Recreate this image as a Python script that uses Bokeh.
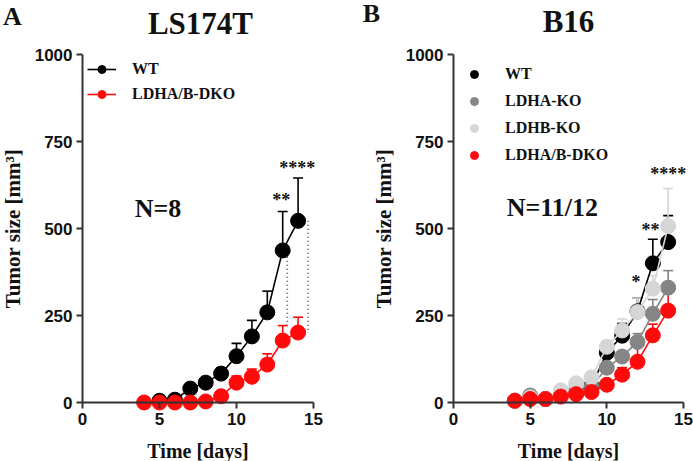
from bokeh.plotting import figure
from bokeh.models import (ColumnDataSource, Whisker, TeeHead, Label, Legend, LegendItem,
                          Range1d, FixedTicker)
from bokeh.layouts import row
from bokeh.embed import file_html
from bokeh.resources import INLINE

# ---------------- data ----------------
# Panel A: LS174T
a_days_wt = [5, 6, 7, 8, 9, 10, 11, 12, 13, 14]
a_wt = [5, 8, 40, 57, 83, 133, 190, 259, 437, 522]
a_wt_top = [7, 11, 46, 64, 100, 170, 236, 320, 549, 645]
a_days_dko = [4, 5, 6, 7, 8, 9, 10, 11, 12, 13, 14]
a_dko = [0, 0, 0, 0, 3, 18, 57, 74, 109, 178, 201]
a_dko_top = [1, 1, 1, 1, 5, 22, 76, 96, 140, 221, 245]
a_stars = ["**", "****"]
a_stars_x = [12.9, 13.95]
a_stars_y = [583, 675]
a_bracket_x = [13.3, 14.65]
a_bracket_top = [430, 522]
a_bracket_bot = [222, 200]

# Panel B: B16
b_days = [4, 5, 6, 7, 8, 9, 10, 11, 12, 13, 14]
b_wt = [5, 12, 10, 25, 30, 48, 143, 192, 262, 400, 461]
b_wt_top = [6, 14, 12, 28, 34, 55, 173, 227, 300, 469, 537]
b_ldha = [5, 20, 10, 20, 30, 45, 100, 132, 174, 255, 330]
b_ldha_top = [6, 24, 12, 23, 34, 52, 112, 144, 198, 296, 379]
b_ldhb = [5, 15, 10, 35, 55, 72, 160, 207, 260, 327, 507]
b_ldhb_top = [6, 18, 12, 40, 62, 82, 178, 240, 300, 365, 615]
b_dko = [5, 10, 10, 17, 24, 30, 51, 80, 117, 193, 264]
b_dko_top = [6, 12, 12, 20, 28, 35, 60, 100, 163, 225, 343]
b_stars = ["*", "**", "****"]
b_stars_x = [11.9, 12.85, 14.0]
b_stars_y = [345, 497, 656]

x_ticks = [0, 5, 10, 15]
y_ticks = [0, 250, 500, 750, 1000]

SERIF = "Liberation Serif"
SANS = "Liberation Sans"

BLACK = "#000000"
RED = "#ff0a0a"
GRAY = "#858585"
LGRAY = "#d6d6d6"
TXT = "#111111"

# ---------------- layout geometry (pixels) ----------------
H = 461
PY0, PY1000 = 402, 54          # pixel rows of y=0 and y=1000


def make_fig(width, px0, px15):
    sx = (px15 - px0) / 15.0
    sy = (PY0 - PY1000) / 1000.0
    xr = Range1d(-px0 / sx, (width - px0) / sx)
    yr = Range1d(-(H - PY0) / sy, PY0 / sy)
    p = figure(width=width, height=H, output_backend="svg", toolbar_location=None,
               x_range=xr, y_range=yr,
               min_border_left=0, min_border_right=0, min_border_top=0, min_border_bottom=0)
    p.title.visible = False
    p.outline_line_color = None
    p.xgrid.visible = False
    p.ygrid.visible = False
    p.xaxis.fixed_location = 0
    p.yaxis.fixed_location = 0
    p.xaxis.bounds = (0, 15)
    p.yaxis.bounds = (0, 1000)
    p.xaxis.ticker = FixedTicker(ticks=x_ticks)
    p.yaxis.ticker = FixedTicker(ticks=y_ticks)
    for ax in (p.xaxis, p.yaxis):
        ax.axis_line_width = 2
        ax.axis_line_color = "#333333"
        ax.major_tick_line_color = "#333333"
        ax.major_tick_line_width = 2
        ax.major_tick_out = 6
        ax.major_tick_in = 0
        ax.minor_tick_line_color = None
        ax.major_label_text_font = SANS
        ax.major_label_text_font_style = "bold"
        ax.major_label_text_font_size = "17px"
        ax.major_label_text_color = TXT
        ax.major_label_standoff = 4
        ax.axis_label_text_font = SERIF
        ax.axis_label_text_font_style = "bold"
        ax.axis_label_text_color = TXT
    p.xaxis.axis_label = "Time [days]"
    p.xaxis.axis_label_text_font_size = "20px"
    p.xaxis.axis_label_standoff = 12
    p.yaxis.axis_label = "Tumor size [mm³]"
    p.yaxis.axis_label_text_font_size = "21px"
    p.yaxis.axis_label_standoff = 7
    return p


def series(p, xs, ys, tops, color, lw=1.6):
    src = ColumnDataSource(dict(x=xs, y=ys, top=tops))
    w = Whisker(base="x", lower="y", upper="top", source=src, line_color=color, line_width=1.6,
                upper_head=TeeHead(size=10, line_color=color, line_width=1.6), lower_head=None)
    p.add_layout(w)
    ln = p.line("x", "y", source=src, line_color=color, line_width=lw)
    sc = p.scatter("x", "y", source=src, size=15, fill_color=color, line_color=color)
    return ln, sc


def text_label(p, x, y, t, size, font=SERIF):
    p.add_layout(Label(x=x, y=y, text=t, text_font=font, text_font_size=size,
                       text_font_style="bold", text_align="center", text_baseline="middle",
                       text_color=TXT))


def legend(items, vx, vy, gw, gh, spacing, standoff):
    return Legend(items=items, location=(vx, vy), margin=0, padding=5, spacing=spacing,
                  glyph_width=gw, glyph_height=gh, label_height=gh, label_standoff=standoff,
                  label_text_font=SERIF, label_text_font_style="bold",
                  label_text_font_size="16px", label_text_color=TXT,
                  border_line_color=None, background_fill_alpha=0)


# ---------------- panel A ----------------
pa = make_fig(346, 82, 313)
pa.segment(x0=a_bracket_x, y0=a_bracket_top, x1=a_bracket_x, y1=a_bracket_bot,
           line_color="#444444", line_width=1.6, line_dash="1 3")
wt_ln, wt_sc = series(pa, a_days_wt, a_wt, a_wt_top, BLACK)
dko_ln, dko_sc = series(pa, a_days_dko, a_dko, a_dko_top, RED)
for s, x, y in zip(a_stars, a_stars_x, a_stars_y):
    text_label(pa, x, y, s, "18px")
text_label(pa, 4.9, 557, "N=8", "26px")
text_label(pa, 7.66, 1089, "LS174T", "31px")
text_label(pa, -4.55, 1109, "A", "26px")
pa.add_layout(legend([LegendItem(label="WT", renderers=[wt_ln, wt_sc]),
                      LegendItem(label="LDHA/B-DKO", renderers=[dko_ln, dko_sc])],
                     87, 357, 29, 20, 5, 16))

# ---------------- panel B ----------------
pb = make_fig(347, 107, 337)
r_wt = series(pb, b_days, b_wt, b_wt_top, BLACK)
r_a = series(pb, b_days, b_ldha, b_ldha_top, GRAY)
r_b = series(pb, b_days, b_ldhb, b_ldhb_top, LGRAY)
r_d = series(pb, b_days, b_dko, b_dko_top, RED)
for s, x, y in zip(b_stars, b_stars_x, b_stars_y):
    text_label(pb, x, y, s, "18px")
text_label(pb, 6.45, 561, "N=11/12", "26px")
text_label(pb, 7.5, 1095, "B16", "31px")
text_label(pb, -5.35, 1119, "B", "26px")
pb.add_layout(legend([LegendItem(label="WT", renderers=[r_wt[1]]),
                      LegendItem(label="LDHA-KO", renderers=[r_a[1]]),
                      LegendItem(label="LDHB-KO", renderers=[r_b[1]]),
                      LegendItem(label="LDHA/B-DKO", renderers=[r_d[1]])],
                     118, 296, 20, 20, 7, 21))

layout = row(pa, pb)
open("out.html", "w").write(file_html(layout, INLINE))
